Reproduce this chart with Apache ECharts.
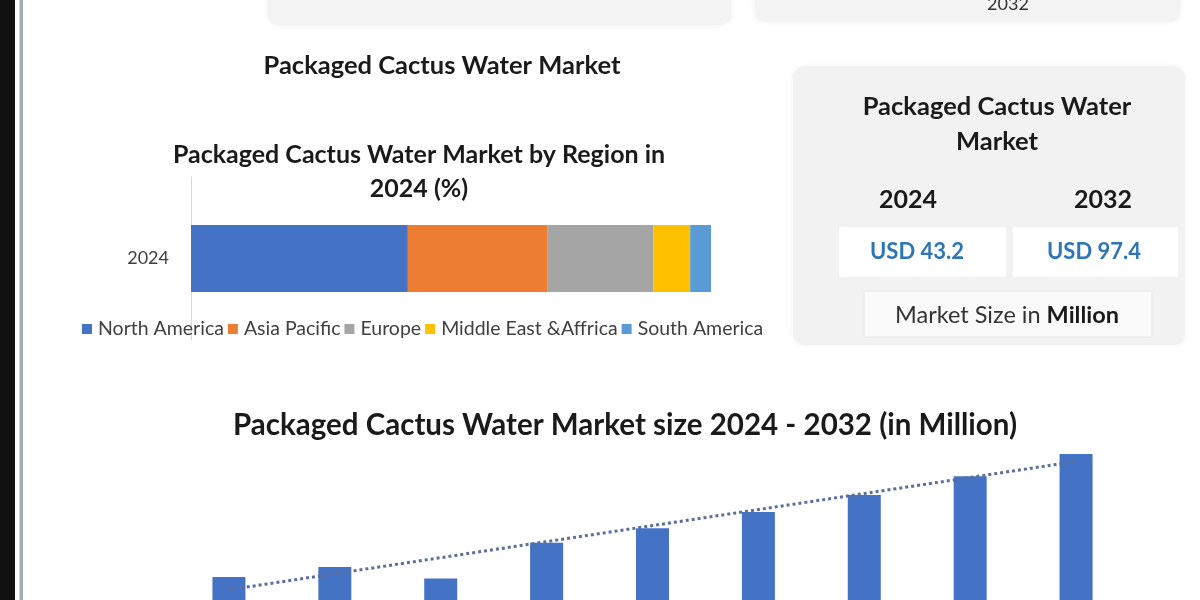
<!DOCTYPE html>
<html>
<head>
<meta charset="utf-8">
<title>Packaged Cactus Water Market</title>
<script src="https://cdn.jsdelivr.net/npm/echarts@6/dist/echarts.min.js"></script>
<style>
  html, body { margin: 0; padding: 0; background: #fff; }
  #main { width: 1200px; height: 600px; }
</style>
</head>
<body>
<div id="main"></div>
<script>
// region share, 2024 (%)
var regionYear = ['2024'];
var regionNames = ['North America', 'Asia Pacific', 'Europe', 'Middle East &Affrica', 'South America'];
var regionShare = [41.7, 26.9, 20.3, 7.1, 4.0];
var regionColors = ['#4472C4', '#ED7D31', '#A5A5A5', '#FFC000', '#5B9BD5'];

// market size 2024 - 2032 (USD million)
var years = ['2024', '2025', '2026', '2027', '2028', '2029', '2030', '2031', '2032'];
var marketSize = [43.2, 47.6, 42.5, 58.3, 64.7, 71.8, 79.3, 87.6, 97.4];

var FONT = 'Lato, "Open Sans", sans-serif';

// linear trend line (least squares) through marketSize
function trendOf(vals) {
    var n = vals.length, sx = 0, sy = 0, sxy = 0, sxx = 0;
    for (var i = 0; i < n; i++) {
        sx += i; sy += vals[i]; sxy += i * vals[i]; sxx += i * i;
    }
    var b = (n * sxy - sx * sy) / (n * sxx - sx * sx);
    var a = (sy - b * sx) / n;
    var out = [];
    for (var j = 0; j < n; j++) out.push(+(a + b * j).toFixed(2));
    return out;
}

function txt(x, y, text, font, color, extra) {
    var st = {
        x: x, y: y, text: text, font: font, fill: color || '#1a1a1a',
        textAlign: 'center', textVerticalAlign: 'middle',
        align: 'center', verticalAlign: 'middle'
    };
    if (extra) for (var k in extra) st[k] = extra[k];
    return { type: 'text', z: 10, style: st };
}

var chart = echarts.init(document.getElementById('main'));

var regionSeries = [];
for (var i = 0; i < regionNames.length; i++) {
    regionSeries.push({
        name: regionNames[i],
        type: 'bar',
        stack: 'region',
        xAxisIndex: 0,
        yAxisIndex: 0,
        barWidth: 67,
        itemStyle: { color: regionColors[i] },
        data: [regionShare[i]]
    });
}

var option = {
    backgroundColor: '#ffffff',
    animation: false,
    legend: {
        data: regionNames,
        left: 77,
        top: 314,
        icon: 'rect',
        itemWidth: 10,
        itemHeight: 10,
        itemGap: 4,
        textStyle: { fontFamily: FONT, fontSize: 19.5, color: '#404040', padding: [0, 0, 0, 1] }
    },
    grid: [
        { left: 191, width: 520, top: 177, height: 163 },
        // bars run past the bottom edge of the picture
        { left: 176, right: 71, top: 448, height: 227, outerBoundsMode: 'none' }
    ],
    xAxis: [
        { gridIndex: 0, type: 'value', min: 0, max: 100, show: false },
        { gridIndex: 1, type: 'category', data: years, show: false }
    ],
    yAxis: [
        {
            gridIndex: 0, type: 'category', data: regionYear,
            axisLine: { lineStyle: { color: '#d9d9d9', width: 1 } },
            axisTick: { show: false },
            axisLabel: { fontFamily: FONT, fontSize: 18, color: '#404040', margin: 22 }
        },
        { gridIndex: 1, type: 'value', min: 0, max: 100, show: false }
    ],
    series: regionSeries.concat([
        {
            name: 'Market size',
            type: 'bar',
            xAxisIndex: 1,
            yAxisIndex: 1,
            barWidth: 33,
            itemStyle: { color: '#4472C4' },
            data: marketSize
        },
        {
            name: 'Trend',
            type: 'line',
            xAxisIndex: 1,
            yAxisIndex: 1,
            showSymbol: false,
            z: 5,
            lineStyle: { type: 'dotted', width: 3, color: '#5b6f9c' },
            data: trendOf(marketSize)
        }
    ]),
    graphic: [
        // page frame on the left
        { type: 'rect', shape: { x: 0, y: 0, width: 15, height: 600 }, style: { fill: '#111111' } },
        { type: 'rect', shape: { x: 19.5, y: 0, width: 3.5, height: 600 }, style: { fill: '#a3abb6' } },
        // boxes cut off at the top
        { type: 'rect', shape: { x: 268, y: -30, width: 463, height: 55, r: 10 },
          style: { fill: '#f3f3f3', shadowBlur: 6, shadowColor: 'rgba(0,0,0,0.06)' } },
        { type: 'rect', shape: { x: 755, y: -30, width: 425, height: 52, r: 10 },
          style: { fill: '#f3f3f3', shadowBlur: 6, shadowColor: 'rgba(0,0,0,0.06)' } },
        txt(1008, 4, '2032', '18px ' + FONT, '#333'),
        // titles
        txt(442, 66, 'Packaged Cactus Water Market', 'bold 25.5px ' + FONT),
        txt(419, 155, 'Packaged Cactus Water Market by Region in', 'bold 25px ' + FONT),
        txt(419, 189, '2024 (%)', 'bold 25px ' + FONT),
        txt(625, 425, 'Packaged Cactus Water Market size 2024 - 2032 (in Million)', 'bold 29.5px ' + FONT),
        // market size panel
        { type: 'rect', shape: { x: 793, y: 66, width: 392, height: 279, r: 12 },
          style: { fill: '#f2f2f2', shadowBlur: 6, shadowColor: 'rgba(0,0,0,0.05)' } },
        txt(997, 107, 'Packaged Cactus Water', 'bold 25.5px ' + FONT),
        txt(997, 142, 'Market', 'bold 25.5px ' + FONT),
        txt(908, 200, '2024', 'bold 25px ' + FONT),
        txt(1103, 200, '2032', 'bold 25px ' + FONT),
        { type: 'rect', shape: { x: 839, y: 227, width: 167, height: 50, r: 2 }, style: { fill: '#ffffff' } },
        { type: 'rect', shape: { x: 1013, y: 227, width: 165, height: 50, r: 2 }, style: { fill: '#ffffff' } },
        txt(917, 252, 'USD 43.2', 'bold 22px ' + FONT, '#2E75B6'),
        txt(1094, 252, 'USD 97.4', 'bold 22px ' + FONT, '#2E75B6'),
        { type: 'rect', shape: { x: 864, y: 291, width: 288, height: 46 },
          style: { fill: '#fafafa', stroke: '#e6e6e6', lineWidth: 1 } },
        txt(1007, 315, 'Market Size in {b|Million}', '23.5px ' + FONT, '#333', {
            rich: { b: { font: 'bold 23.5px ' + FONT, fill: '#1a1a1a' } }
        })
    ]
};

chart.setOption(option);
</script>
</body>
</html>
